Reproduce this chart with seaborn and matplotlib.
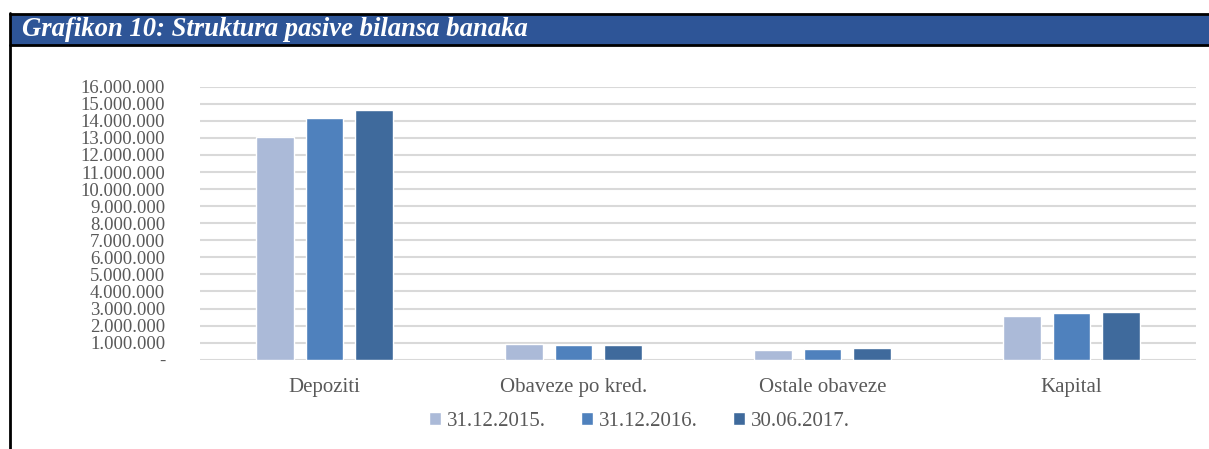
import pandas as pd
import matplotlib.pyplot as plt
import seaborn as sns
from matplotlib.patches import Rectangle
from matplotlib.lines import Line2D
from matplotlib.ticker import FuncFormatter

categories = ['Depoziti', 'Obaveze po kred.', 'Ostale obaveze', 'Kapital']
periods = ['31.12.2015.', '31.12.2016.', '30.06.2017.']
val_2015 = [13080000, 900000, 590000, 2590000]
val_2016 = [14140000, 850000, 650000, 2710000]
val_2017 = [14620000, 860000, 710000, 2810000]
colors = ['#ABBAD8', '#4F81BD', '#3F6A9C']
title = 'Grafikon 10: Struktura pasive bilansa banaka'

rows = []
for period, vals in zip(periods, [val_2015, val_2016, val_2017]):
    for cat, v in zip(categories, vals):
        rows.append({'Kategorija': cat, 'Period': period, 'Vrijednost': v})
df = pd.DataFrame(rows)

sns.set_style('white')
plt.rcParams['font.family'] = ['Liberation Serif', 'DejaVu Serif']

fig = plt.figure(figsize=(12.09, 4.49), dpi=100)
ax = fig.add_axes([0.1654, 0.1989, 0.9893 - 0.1654, 0.8069 - 0.1989])

sns.barplot(data=df, x='Kategorija', y='Vrijednost', hue='Period',
            palette=colors, width=0.6, gap=0.24, ax=ax, zorder=3,
            saturation=1, errorbar=None)

ax.set_ylim(0, 16000000)
ax.set_xlim(-0.5, 3.5)
ax.set_yticks(range(0, 16000001, 1000000))
ax.yaxis.set_major_formatter(FuncFormatter(
    lambda v, p: '-' if v == 0 else f'{int(v):,}'.replace(',', '.')))
ax.grid(axis='y', color='#D9D9D9', linewidth=1.5, zorder=0)
ax.set_axisbelow(True)
for s in ax.spines.values():
    s.set_visible(False)
ax.tick_params(axis='y', length=0, pad=25, labelsize=13.5, labelcolor='#595959')
ax.tick_params(axis='x', length=0, pad=13, labelsize=15, labelcolor='#595959')
ax.set_xlabel('')
ax.set_ylabel('')

handles, labels = ax.get_legend_handles_labels()
ax.legend(handles, labels, ncol=3, loc='center', bbox_to_anchor=(0.529, 0.062),
          bbox_transform=fig.transFigure, frameon=False, fontsize=15,
          handlelength=0.55, handleheight=0.55, handletextpad=0.3,
          columnspacing=1.7, labelcolor='#595959')

# title bar and frame
H = 449.0
fig.patches.append(Rectangle((10 / 1209, (H - 45) / H), 1, 31 / H,
                             transform=fig.transFigure, facecolor='#2E5597',
                             edgecolor='none', zorder=0))
fig.lines.append(Line2D([10 / 1209, 1], [(H - 14) / H] * 2, transform=fig.transFigure,
                        color='black', linewidth=2))
fig.lines.append(Line2D([10 / 1209, 1], [(H - 45) / H] * 2, transform=fig.transFigure,
                        color='black', linewidth=2))
fig.lines.append(Line2D([10 / 1209] * 2, [0, (H - 13) / H], transform=fig.transFigure,
                        color='black', linewidth=2))
fig.text(22 / 1209, (H - 30) / H, title, color='white', fontsize=19.2,
         fontweight='bold', fontstyle='italic', va='center', ha='left')

fig.savefig('out.png', dpi=100, facecolor='white')
